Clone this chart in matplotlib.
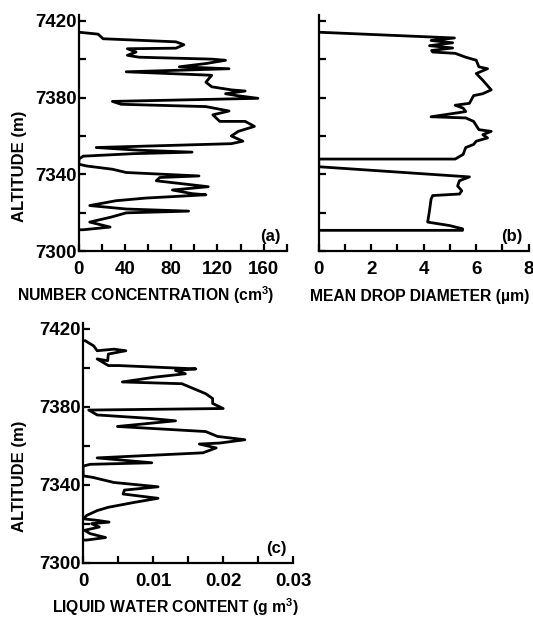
import numpy as np
import matplotlib
matplotlib.use('Agg')
import matplotlib.pyplot as plt
from matplotlib.ticker import MultipleLocator

plt.rcParams['font.family'] = ['Liberation Sans', 'DejaVu Sans']
plt.rcParams['font.weight'] = 'bold'
plt.rcParams['mathtext.fontset'] = 'custom'
plt.rcParams['mathtext.bf'] = 'Liberation Sans:bold'
plt.rcParams['mathtext.rm'] = 'Liberation Sans:bold'

alt_ticks = [7300, 7340, 7380, 7420]
alt_minor = [7320, 7360, 7400]

# (a) number concentration (cm-3) vs altitude (m)
conc_a = [0, 16.6, 21, 84, 91, 84, 42, 49.5, 42, 52, 115, 127, 110, 87, 130, 41,
          115, 110, 115, 132, 144, 127, 137, 155, 29, 36.6, 110, 130, 116, 122,
          144, 152, 138, 132, 142, 132, 15, 52, 98, 47, 3.7, 0, 0, 6.6, 29, 41,
          104, 70, 67, 80, 112, 81, 98, 110, 58, 32, 9.4, 41, 95, 41, 28, 9.4,
          27, 3.7, 0]
alt_a = [7414, 7413, 7410.6, 7409, 7407.5, 7405.7, 7405.4, 7403.7, 7402, 7401,
         7400, 7399.4, 7397.7, 7396, 7395, 7393.4, 7391.6, 7388, 7385.6, 7384,
         7383.4, 7382, 7381, 7379.6, 7378, 7376.5, 7375.3, 7373, 7371, 7367.6,
         7367.6, 7365, 7362.4, 7360, 7357.3, 7356, 7354, 7352.6, 7351.6, 7350.8,
         7349.5, 7348, 7345.3, 7344.4, 7342.7, 7341, 7339.2, 7338.4, 7336.7,
         7335.8, 7333.6, 7331.9, 7330, 7329.4, 7327.7, 7326.3, 7323.8, 7322,
         7320.9, 7320, 7317.8, 7315.2, 7312.6, 7311.2, 7311.2]

# (b) mean drop diameter (um)
diam_b = [0, 5.17, 4.28, 5.1, 4.22, 5.1, 4.3, 4.34, 5.2, 5.6, 6.0, 6.1, 6.43,
          6.0, 6.25, 6.57, 6.25, 5.9, 5.74, 5.2, 5.5, 5.6, 4.28, 5.6, 5.9, 6.1,
          6.57, 6.25, 6.43, 6.0, 5.9, 5.6, 5.5, 5.2, 0, 0, 5.74, 5.36, 5.29, 5.45,
          5.36, 4.34, 4.28, 4.22, 4.15, 4.98, 5.48, 5.48, 0]
alt_b = [7414, 7411, 7409.7, 7408.5, 7407, 7405.8, 7404.5, 7403.7, 7403, 7401,
         7399.4, 7396, 7395, 7392.5, 7389, 7384, 7382, 7381, 7377, 7376, 7374.5,
         7372.7, 7370, 7369.4, 7367.6, 7363.3, 7362.4, 7360.7, 7359, 7357.3,
         7355.6, 7354, 7350.4, 7348, 7348, 7344, 7338.7, 7336.7, 7334, 7331.5,
         7329.8, 7329, 7327.2, 7321.2, 7315.2, 7313.4, 7311.7, 7310.9, 7310.9]

# (c) liquid water content (g m-3)
lwc_c = [0.0003, 0.0015, 0.002, 0.0044, 0.0061, 0.0036, 0.0035, 0.002, 0.0036,
         0.0051, 0.0161, 0.0132, 0.0146, 0.0103, 0.0056, 0.0141, 0.0175, 0.0185,
         0.0185, 0.020, 0.0008, 0.002, 0.0093, 0.0132, 0.0049, 0.0175, 0.0192,
         0.0231, 0.0195, 0.0166, 0.019, 0.0171, 0.002, 0.0098, 0.001, 0, 0,
         0.0014, 0.0044, 0.0107, 0.0059, 0.0057, 0.0107, 0.0073, 0.0036, 0.002,
         0.0005, 0, 0.002, 0.0037, 0.0012, 0.0023, 0.0002, 0.001, 0.0032, 0.0005, 0]
alt_c = [7413.8, 7411.2, 7408.7, 7409.5, 7408.7, 7407, 7403.6, 7404.5, 7401.1,
         7401.1, 7399.4, 7398.6, 7396.9, 7395.2, 7392.7, 7391.8, 7386.7, 7384.2,
         7381.7, 7379.1, 7378.3, 7375.8, 7374.1, 7372.8, 7369.9, 7367.3, 7364.8,
         7363.1, 7361.4, 7360.9, 7358.9, 7356.4, 7353.8, 7351.3, 7350.5, 7349.6,
         7344.6, 7343.8, 7341.2, 7339, 7337.3, 7335.3, 7333.1, 7331, 7328.5,
         7326.8, 7324.3, 7322.6, 7321.8, 7320.9, 7320.1, 7318.4, 7316.7, 7315,
         7313, 7311.7, 7311.7]

fig = plt.figure(figsize=(5.33, 6.22), dpi=100)


def style(ax, xmax, xmaj, xmin, panel, xlabel, xlab_x, xfmt):
    for s in ['top', 'right']:
        ax.spines[s].set_visible(False)
    for s in ['left', 'bottom']:
        ax.spines[s].set_linewidth(1.6)
    ax.set_xlim(0, xmax)
    ax.set_ylim(7300, 7423)
    ax.xaxis.set_major_locator(MultipleLocator(xmaj))
    ax.xaxis.set_minor_locator(MultipleLocator(xmin))
    ax.set_yticks(alt_ticks)
    ax.set_yticks(alt_minor, minor=True)
    ax.tick_params(which='both', direction='in', width=1.6, length=5,
                   labelsize=13.5)
    ax.tick_params(axis='x', pad=7)
    ax.tick_params(axis='y', pad=1.5)
    ax.xaxis.set_major_formatter(xfmt)
    ax.text(0.97, 0.03, panel, transform=ax.transAxes, ha='right', va='bottom',
            fontsize=12, fontweight='bold')
    ax.text(xlab_x, -0.21, xlabel, transform=ax.transAxes, ha='center',
            va='baseline', fontsize=11.3, fontweight='bold')


ax1 = fig.add_axes([0.148, 0.596, 0.390, 0.380])
ax1.plot(conc_a, alt_a, color='black', lw=2.0)
style(ax1, 180, 40, 20, '(a)', 'NUMBER CONCENTRATION (cm$^\\mathbf{3}$)', 0.32,
      lambda v, p: f'{v:.0f}')
ax1.set_ylabel('ALTITUDE (m)', fontsize=12, fontweight='bold')
ax1.yaxis.set_label_coords(-0.25, 0.36)

ax2 = fig.add_axes([0.598, 0.596, 0.394, 0.380])
ax2.plot(diam_b, alt_b, color='black', lw=2.0)
style(ax2, 8, 2, 1, '(b)', 'MEAN DROP DIAMETER (µm)', 0.48,
      lambda v, p: f'{v:.0f}')
ax2.set_yticklabels([])

ax3 = fig.add_axes([0.156, 0.095, 0.394, 0.386])
ax3.plot(lwc_c, alt_c, color='black', lw=2.0)
style(ax3, 0.03, 0.01, 0.005, '(c)', 'LIQUID WATER CONTENT (g m$^\\mathbf{3}$)', 0.44,
      lambda v, p: '0' if v == 0 else f'{v:.2f}')
ax3.set_ylabel('ALTITUDE (m)', fontsize=12, fontweight='bold')
ax3.yaxis.set_label_coords(-0.265, 0.36)

fig.savefig('out.png', dpi=100)
